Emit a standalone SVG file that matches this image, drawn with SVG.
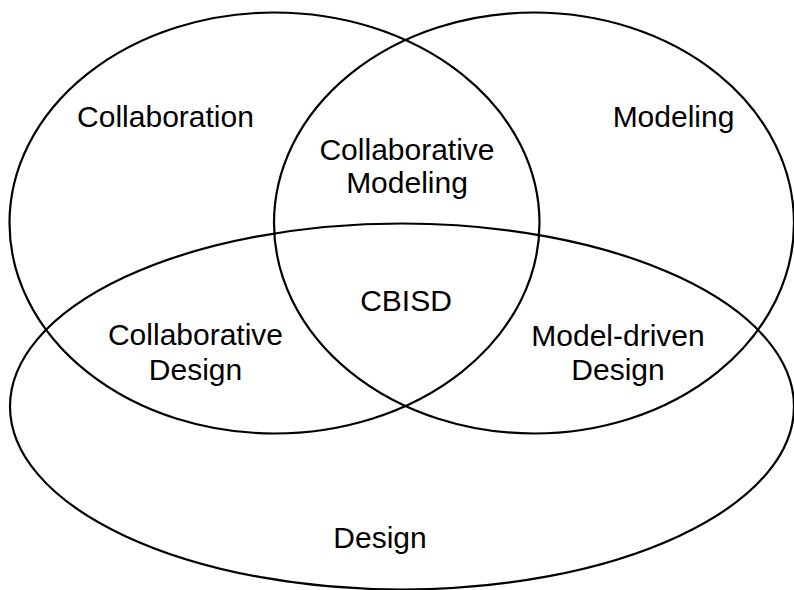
<svg xmlns="http://www.w3.org/2000/svg" width="794" height="590" viewBox="0 0 794 590">
<style>
.set{fill:none;stroke:#000;stroke-width:2.2}
.lbl{font-family:"Liberation Sans",Arial,sans-serif;font-size:30px;fill:#000;text-anchor:middle}
</style>
<rect width="794" height="590" fill="#fff"/>
<g id="collaboration">
<ellipse class="set" cx="274.5" cy="223" rx="265" ry="210.5"/>
<text class="lbl" x="165.5" y="127">Collaboration</text>
</g>
<g id="modeling">
<ellipse class="set" cx="534" cy="223" rx="260" ry="210.5"/>
<text class="lbl" x="673.5" y="127">Modeling</text>
</g>
<g id="design">
<ellipse class="set" cx="402" cy="406.5" rx="392" ry="183"/>
<text class="lbl" x="380" y="548">Design</text>
</g>
<g id="collaborative-modeling">
<text class="lbl" x="407" y="160">Collaborative</text>
<text class="lbl" x="407" y="193">Modeling</text>
</g>
<g id="cbisd">
<text class="lbl" x="406" y="311">CBISD</text>
</g>
<g id="collaborative-design">
<text class="lbl" x="195.5" y="345">Collaborative</text>
<text class="lbl" x="195.5" y="380">Design</text>
</g>
<g id="model-driven-design">
<text class="lbl" x="618" y="346">Model-driven</text>
<text class="lbl" x="618" y="380">Design</text>
</g>
<g id="connectors"></g>
</svg>
